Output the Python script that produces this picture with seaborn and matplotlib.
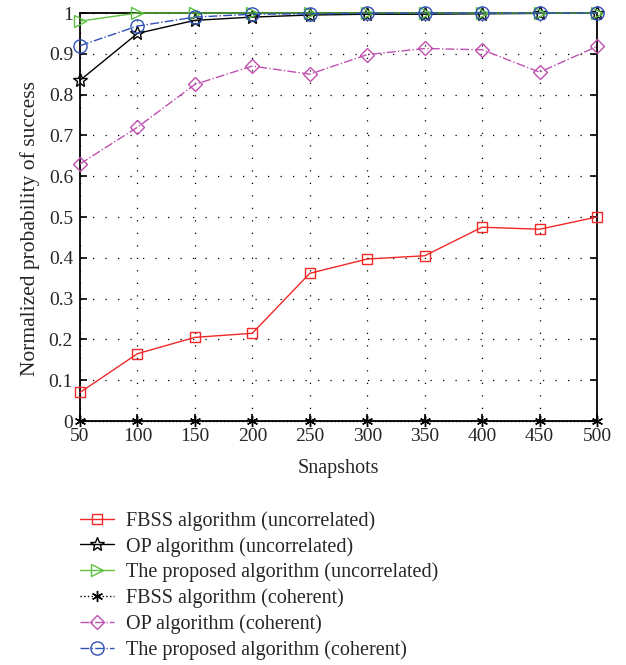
import matplotlib
matplotlib.use("Agg")
import matplotlib.pyplot as plt
import seaborn as sns
import numpy as np

snapshots = [50, 100, 150, 200, 250, 300, 350, 400, 450, 500]
fbss_uncorr = [0.07, 0.165, 0.205, 0.215, 0.362, 0.397, 0.405, 0.475, 0.47, 0.50]
op_uncorr = [0.835, 0.95, 0.982, 0.99, 0.995, 0.997, 0.997, 0.998, 0.999, 1.0]
prop_uncorr = [0.98, 1.0, 1.0, 1.0, 1.0, 1.0, 1.0, 1.0, 1.0, 1.0]
fbss_coh = [0, 0, 0, 0, 0, 0, 0, 0, 0, 0]
op_coh = [0.63, 0.72, 0.825, 0.87, 0.85, 0.898, 0.913, 0.91, 0.855, 0.918]
prop_coh = [0.92, 0.968, 0.99, 0.997, 0.998, 0.999, 1.0, 1.0, 1.0, 1.0]

labels = ["FBSS algorithm (uncorrelated)", "OP algorithm (uncorrelated)",
          "The proposed algorithm (uncorrelated)", "FBSS algorithm (coherent)",
          "OP algorithm (coherent)", "The proposed algorithm (coherent)"]
yticks = [0, 0.1, 0.2, 0.3, 0.4, 0.5, 0.6, 0.7, 0.8, 0.9, 1]
ytick_labels = ["0", "0.1", "0.2", "0.3", "0.4", "0.5", "0.6", "0.7", "0.8", "0.9", "1"]

sns.set_theme(style="white")
plt.rcParams['font.family'] = ['Liberation Serif', 'DejaVu Serif']

fig = plt.figure(figsize=(6.26, 6.65), dpi=100)
ax = fig.add_axes([80/626, 1-421/665, (597-80)/626, (421-13)/665])

series = [
    (fbss_uncorr, dict(color="#F02828", marker="s", linestyle="-", markersize=7.5)),
    (op_uncorr, dict(color="black", marker="*", linestyle="-", markersize=10.5)),
    (prop_uncorr, dict(color="#5CC040", marker=">", linestyle="-", markersize=9)),
    (fbss_coh, dict(color="black", marker=(6, 2, 0), linestyle=":", markersize=8)),
    (op_coh, dict(color="#C050B0", marker="D", linestyle="-.", markersize=7.5)),
    (prop_coh, dict(color="#3050B8", marker="o", linestyle="-.", markersize=9.5)),
]
for (vals, st), lab in zip(series, labels):
    sns.lineplot(x=snapshots, y=vals, ax=ax, label=lab, color=st["color"],
                 marker=st["marker"], linestyle=st["linestyle"],
                 markersize=st["markersize"], markerfacecolor="none",
                 markeredgecolor=st["color"], markeredgewidth=1.0,
                 linewidth=1.0, clip_on=False, zorder=3)

ax.set_xlim(50, 500)
ax.set_ylim(0, 1)
ax.set_xticks(snapshots)
ax.set_xticklabels([str(s) for s in snapshots], fontsize=14)
ax.set_yticks(yticks)
ax.set_yticklabels(ytick_labels, fontsize=14)
ax.tick_params(direction="in", length=5, width=1.2, color="black", pad=5,
               top=False, right=True, left=True, bottom=True)
ax.grid(True, color="black", linestyle=(0, (1, 9)), linewidth=0.9)
for s in ax.spines.values():
    s.set_color("black")
    s.set_linewidth(1.3)
ax.set_xlabel("Snapshots", fontsize=14.5, labelpad=10)
ax.set_ylabel("Normalized probability of success", fontsize=15.5)
ax.yaxis.set_label_coords(-0.078, 0.473)

h, l = ax.get_legend_handles_labels()
ax.get_legend().remove()
fig.legend(h, l, loc="upper left", bbox_to_anchor=(80/626, 1-511/665),
           frameon=False, fontsize=14.5, labelspacing=0.3, handlelength=1.7,
           handletextpad=0.6, borderaxespad=0, borderpad=0)

fig.savefig("out.png", dpi=100)
